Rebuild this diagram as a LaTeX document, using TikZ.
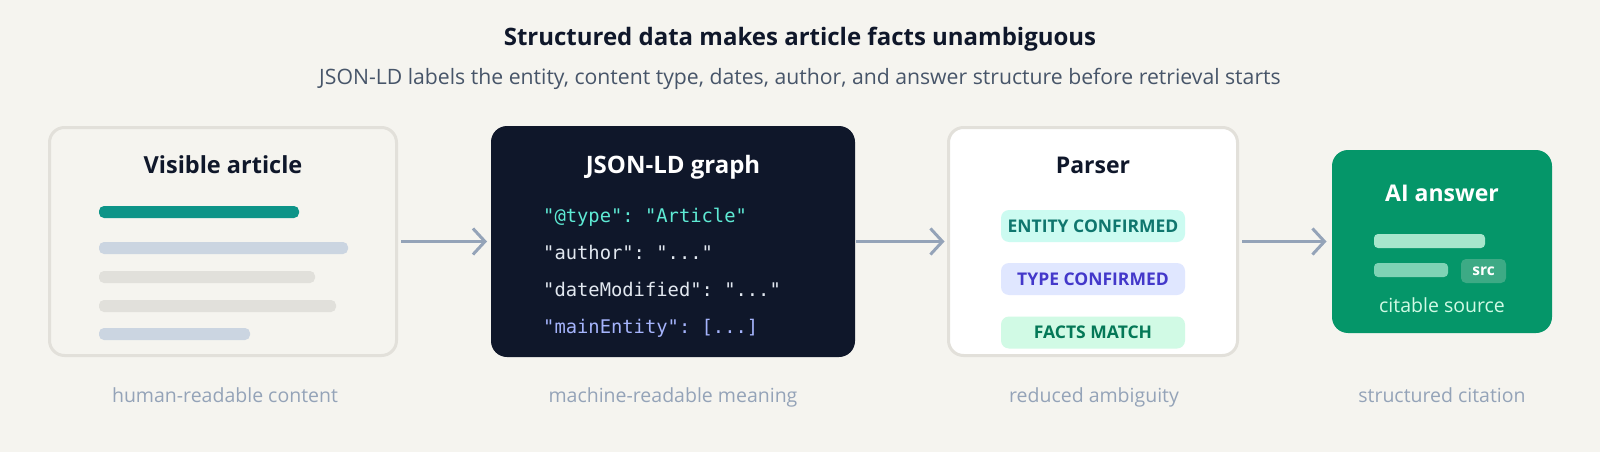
\documentclass[tikz,border=0pt]{standalone}
\usepackage{fontspec}
\setmainfont{Open Sans}
\setmonofont{DejaVu Sans Mono}
\usetikzlibrary{arrows.meta,positioning}
\definecolor{pagebg}{HTML}{F5F4EF}
\definecolor{ink}{HTML}{0F172A}
\definecolor{subink}{HTML}{475569}
\definecolor{muted}{HTML}{94A3B8}
\definecolor{cardline}{HTML}{E2E0DA}
\definecolor{tealbar}{HTML}{0D9488}
\definecolor{blueline}{HTML}{CBD5E1}
\definecolor{greyline}{HTML}{E1E0DB}
\definecolor{navy}{HTML}{0F172A}
\definecolor{codemint}{HTML}{5EEAD4}
\definecolor{codegrey}{HTML}{E2E8F0}
\definecolor{codeblue}{HTML}{A5B4FC}
\definecolor{answergreen}{HTML}{059669}
\definecolor{entityfill}{HTML}{CCFBF1}
\definecolor{entitytext}{HTML}{0F766E}
\definecolor{typefill}{HTML}{E0E7FF}
\definecolor{typetext}{HTML}{4338CA}
\definecolor{factsfill}{HTML}{D1FAE5}
\definecolor{factstext}{HTML}{047857}
\definecolor{answerbarA}{HTML}{A7E6CC}
\definecolor{answerbarB}{HTML}{7FD3B5}
\definecolor{srcfill}{HTML}{3DAA85}
\definecolor{citetext}{HTML}{D1FAE5}
\def\fsz#1{\fontsize{#1}{#1}\selectfont}
\def\skline(#1,#2,#3,#4){
  \fill[#4, rounded corners=5pt] (#1,#2) rectangle (#3,#2+12);
}
\def\badge(#1,#2,#3,#4,#5){
  \node[badgebox, fill=#3, text=#4] (#1) at (1093,#2) {#5};
}

\begin{document}
\begin{tikzpicture}[x=1pt, y=-1pt,
  card/.style={draw=cardline, line width=3pt, rounded corners=15pt, outer sep=0pt},
  boxtitle/.style={anchor=base, font=\fsz{23}\bfseries, text=ink, inner sep=0pt},
  codeline/.style={anchor=base west, font=\fsz{18.8}\ttfamily, inner sep=0pt},
  badgebox/.style={rounded corners=8pt, minimum width=184pt, minimum height=32pt, inner sep=0pt, font=\fsz{17.5}\bfseries},
  caption/.style={anchor=base, font=\fsz{19.5}, text=muted, inner sep=0pt},
  flow/.style={draw=muted, line width=3pt, -{Straight Barb[length=12pt,width=26pt]}, shorten <=4.5pt, shorten >=4pt}]
\fill[pagebg] (0,0) rectangle (1600,452);
\useasboundingbox (0,0) rectangle (1600,452);

\node[anchor=base, font=\fsz{24}\bfseries, text=ink] (heading) at (800,45.5) {Structured data makes article facts unambiguous};
\node[anchor=base, font=\fsz{21.2}, text=subink] (subheading) at (800,84.5) {JSON-LD labels the entity, content type, dates, author, and answer structure before retrieval starts};

\node[card, fill=pagebg, minimum width=347pt, minimum height=228pt] (visible) at (223,241.5) {};
\node[boxtitle, font=\fsz{23.5}\bfseries] (visibletitle) at (223,173) {Visible article};
\skline(99,206,299,tealbar)
\skline(99,242,348,blueline)
\skline(99,271,315,greyline)
\skline(99,300,336,greyline)
\skline(99,328,250,blueline)

\node[fill=navy, rounded corners=16pt, minimum width=364pt, minimum height=231pt, outer sep=0pt] (jsonld) at (673,241.5) {};
\node[boxtitle, font=\fsz{24}\bfseries, text=white] (jsontitle) at (673,173) {JSON-LD graph};
\node[codeline, text=codemint] (ctype) at (543,222.5) {"@type": "Article"};
\node[codeline, text=codegrey] (cauthor) at (543,259.5) {"author": "..."};
\node[codeline, text=codegrey] (cdate) at (543,296.5) {"dateModified": "..."};
\node[codeline, text=codeblue] (centity) at (543,333.5) {"mainEntity": [...]};

\node[card, fill=white, minimum width=289pt, minimum height=228pt] (parser) at (1093,241.5) {};
\node[boxtitle] (parsertitle) at (1093,173) {Parser};
\badge(entity,226,entityfill,entitytext,ENTITY CONFIRMED)
\badge(type,279,typefill,typetext,TYPE CONFIRMED)
\badge(facts,332.5,factsfill,factstext,FACTS MATCH)

\node[fill=answergreen, rounded corners=16pt, minimum width=220pt, minimum height=183pt, outer sep=0pt] (answer) at (1442,241.5) {};
\node[boxtitle, text=white] (answertitle) at (1442,201) {AI answer};
\fill[answerbarA, rounded corners=4pt] (1374,234) rectangle (1485,248);
\fill[answerbarB, rounded corners=4pt] (1374,263) rectangle (1448,277);
\node[fill=srcfill, rounded corners=5pt, minimum width=45pt, minimum height=24pt, inner sep=0pt, font=\fsz{15.5}\bfseries, text=white] (src) at (1483.5,271) {src};
\node[anchor=base, font=\fsz{19.5}, text=citetext, inner sep=0pt] (citable) at (1442,312) {citable source};

\draw[flow] (visible) -- (jsonld);
\draw[flow, shorten <=1pt] (jsonld) -- (parser);
\draw[flow, shorten >=5.5pt] (parser) -- (answer);

\node[caption] (cap1) at (225,402) {human-readable content};
\node[caption] (cap2) at (673,402) {machine-readable meaning};
\node[caption] (cap3) at (1094,402) {reduced ambiguity};
\node[caption] (cap4) at (1442,402) {structured citation};
\end{tikzpicture}
\end{document}
